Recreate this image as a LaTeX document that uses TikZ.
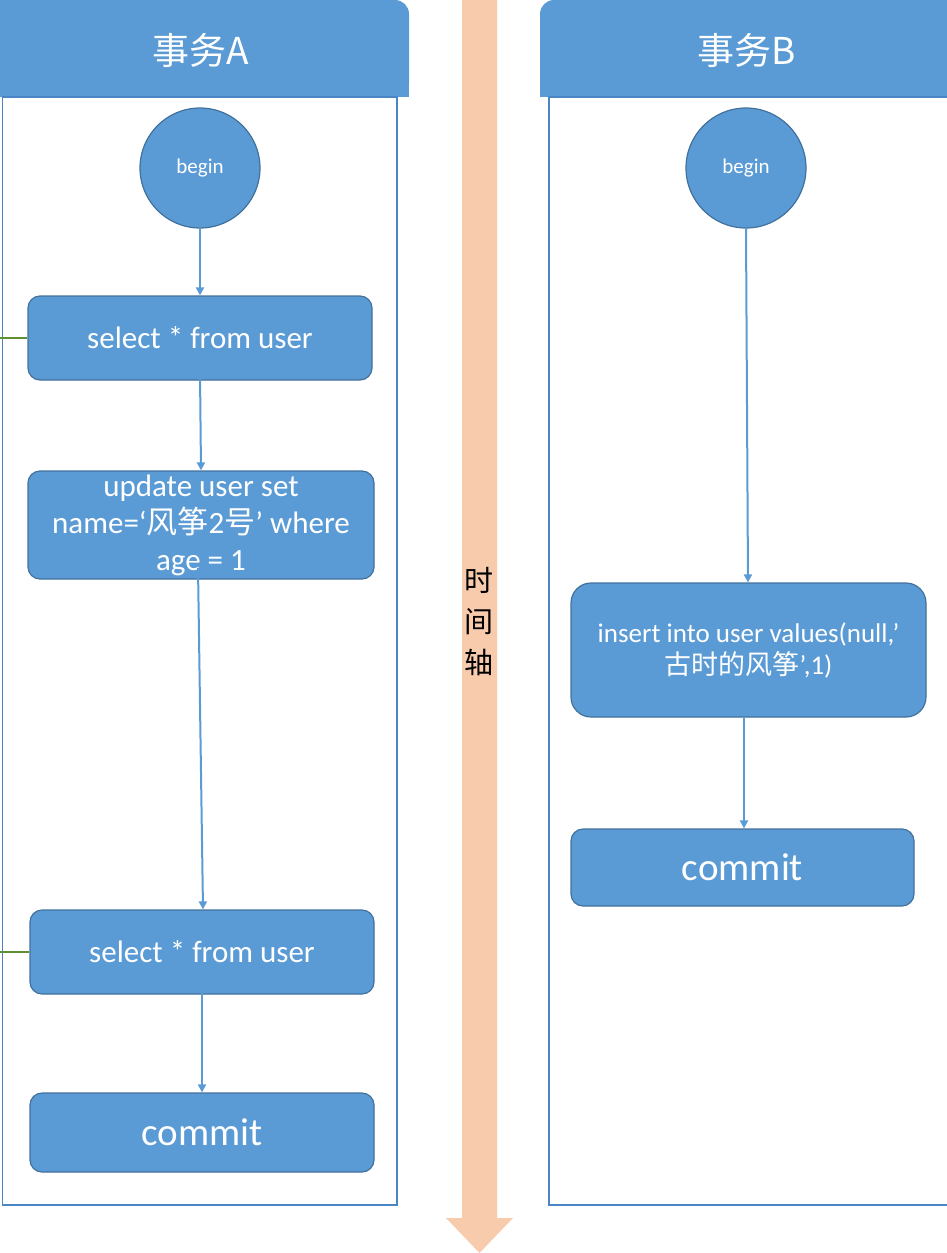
\documentclass[tikz,border=0pt]{standalone}
\usepackage{fontspec}
\setmainfont{Carlito}
\newfontfamily\cjk{Noto Sans CJK SC}
\usetikzlibrary{arrows.meta}
\definecolor{boxblue}{HTML}{5B9BD5}
\definecolor{boxedge}{HTML}{41719C}
\definecolor{panedge}{HTML}{4A86C5}
\definecolor{peach}{HTML}{F8CBAD}
\definecolor{olive}{HTML}{5E8F32}
\tikzset{
  stepbox/.style={draw=boxedge, line width=1.2pt, fill=boxblue, rounded corners=12pt, text=white, align=center, inner sep=0pt},
  beginc/.style={circle, draw=boxedge, line width=1.2pt, fill=boxblue, text=white, minimum size=120pt, inner sep=0pt, font=\fontsize{21}{24}\selectfont},
  flow/.style={draw=boxblue, line width=2pt, -{Triangle[length=8pt,width=8pt]}},
  panel/.style={draw=panedge, line width=1.5pt},
  hdrtxt/.style={text=white, font=\cjk\fontsize{37}{40}\selectfont},
  link/.style={draw=olive, line width=2.4pt}
}
\begin{document}
\begin{tikzpicture}[x=1pt,y=-1pt]
\useasboundingbox (0,0) rectangle (946,1253);
% timeline arrow
\fill[peach] (462,0) -- (497,0) -- (497,1218) -- (513,1218) -- (479.5,1253) -- (446,1218) -- (462,1218) -- cycle;
\node[font=\cjk\fontsize{29}{41}\selectfont, align=center, text=black] (axis) at (479,622) {时\\间\\轴};
% panel A
\fill[boxblue, rounded corners=14pt] (-30,0) rectangle (409,97);
\fill[boxblue] (-30,40) rectangle (409,97);
\draw[panel] (2.5,97) rectangle (397,1205);
\node[hdrtxt] (hA) at (201,50) {事务A};
% panel B
\fill[boxblue, rounded corners=14pt] (540,0) rectangle (980,97);
\fill[boxblue] (540,40) rectangle (980,97);
\draw[panel] (549,97) rectangle (980,1205);
\node[hdrtxt] (hB) at (747,50) {事务B};
% nodes A
\node[beginc] (bA) at (200,168) {begin};
\node[stepbox, minimum width=344pt, minimum height=84pt, font=\fontsize{31}{34}\selectfont] (s1) at (200,338) {select * from user};
\node[stepbox, minimum width=346pt, minimum height=108pt, font=\fontsize{31}{37}\selectfont] (up) at (201,525) {update user set\\name=‘{\cjk 风筝}2{\cjk 号}’ where\\age = 1};
\node[stepbox, minimum width=344pt, minimum height=84pt, font=\fontsize{31}{34}\selectfont] (s2) at (202,952) {select * from user};
\node[stepbox, minimum width=344pt, minimum height=79pt, font=\fontsize{39}{42}\selectfont] (cA) at (202,1132.5) {commit};
% nodes B
\node[beginc] (bB) at (746,168) {begin};
\node[stepbox, rounded corners=20pt, minimum width=355pt, minimum height=134pt, font=\fontsize{27}{32}\selectfont] (ins) at (748.5,650) {insert into user values(null,’\\{\cjk 古时的风筝}',1)};
\node[stepbox, minimum width=343pt, minimum height=77pt, font=\fontsize{39}{42}\selectfont] (cB) at (742.5,867.5) {commit};
% connectors
\draw[flow] (bA.south) -- (s1.north);
\draw[flow] ([yshift=8pt]s1.south) -- (up.north);
\draw[flow] ([xshift=-3pt,yshift=12pt]up.south) -- ([xshift=1pt]s2.north);
\draw[flow] ([yshift=8pt]s2.south) -- (cA.north);
\draw[flow] (bB.south) -- ([xshift=-0.5pt]ins.north);
\draw[flow] ([xshift=-4.5pt]ins.south) -- ([xshift=1.5pt]cB.north);
% green links
\coordinate (gA) at (0,338);
\coordinate (gB) at (0,952);
\draw[link] (gA) -- (s1.west);
\draw[link] (gB) -- (s2.west);
\end{tikzpicture}
\end{document}
